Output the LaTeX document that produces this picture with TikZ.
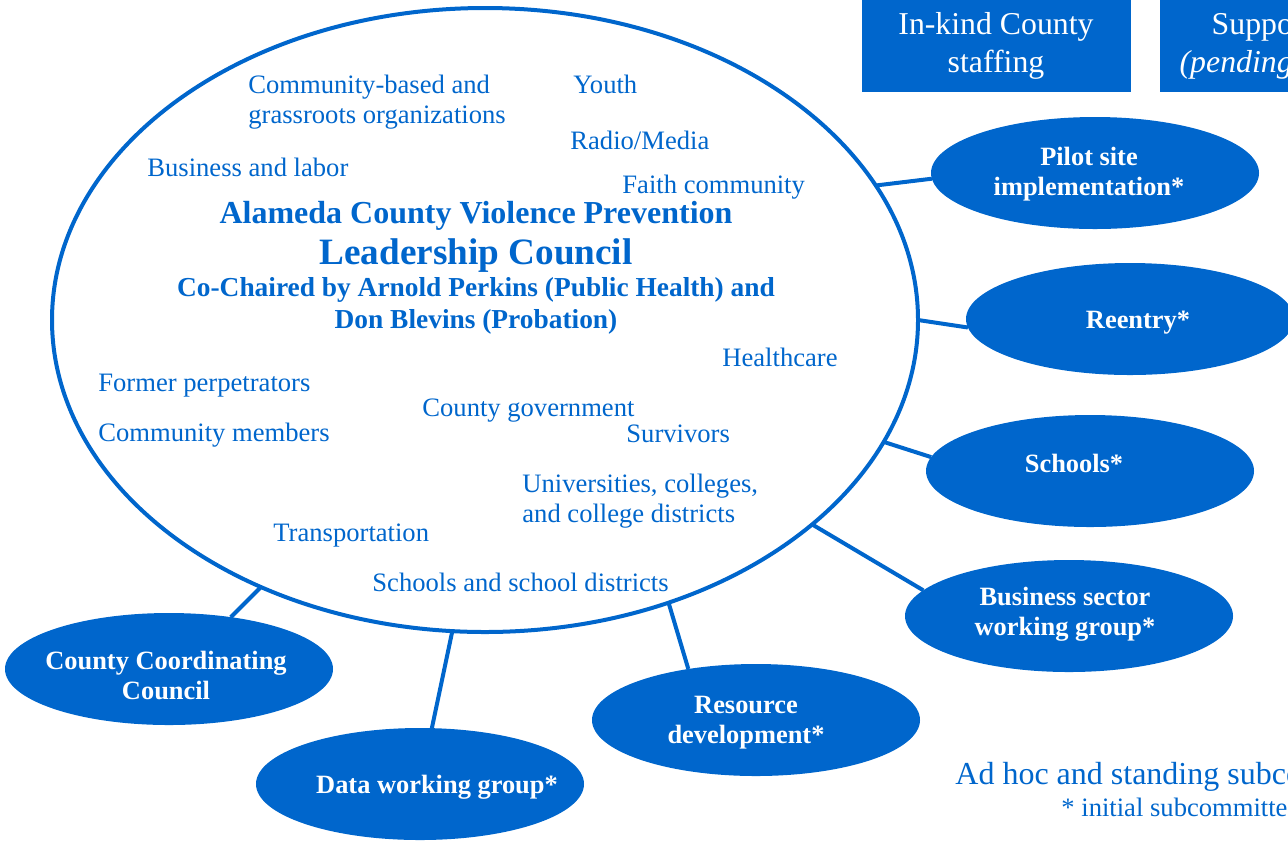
\documentclass[tikz,border=0pt]{standalone}
\usepackage{fontspec}
\setmainfont{Liberation Serif}
\usetikzlibrary{shapes.geometric}
\definecolor{lcblue}{HTML}{0066CC}

\begin{document}
\begin{tikzpicture}[x=0.5pt, y=-0.5pt,
    member/.style={anchor=west, inner sep=0pt, align=left, text=lcblue, font=\fontsize{13.3}{15}\selectfont},
    heading/.style={inner sep=0pt, align=center, text=lcblue},
    sub/.style={ellipse, fill=lcblue, minimum width=164pt, minimum height=56pt, inner sep=0pt, outer sep=0pt},
    subtext/.style={text=white, align=center, font=\bfseries\fontsize{13.2}{15}\selectfont},
    support/.style={fill=lcblue, text=white, minimum width=134.5pt, minimum height=46pt, inner sep=0pt, align=center, font=\fontsize{15.9}{19}\selectfont},
    link/.style={lcblue, line width=2pt}]
    % Fix the page and cut off what runs past it
    \useasboundingbox (0,0) rectangle (1288,842);
    \clip (0,0) rectangle (1288,842);

    % Draw the council ellipse
    \node[ellipse, draw=lcblue, line width=2pt, minimum width=433pt, minimum height=312pt, outer sep=0pt] (council) at (485,320) {};

    % Title of the council
    \node[heading, font=\bfseries\fontsize{16}{19}\selectfont] (title) at (476,216) {Alameda County Violence Prevention};
    \node[heading, font=\bfseries\fontsize{18.6}{22}\selectfont] (name) at (476,256) {Leadership Council};
    \node[heading, font=\bfseries\fontsize{13.7}{16}\selectfont] (chairs) at (476,306) {Co-Chaired by Arnold Perkins (Public Health) and\\Don Blevins (Probation)};

    % Members of the council
    \node[member] (cbo) at (248,102) {Community-based and\\grassroots organizations};
    \node[member] (youth) at (573,84) {Youth};
    \node[member] (media) at (570,140) {Radio/Media};
    \node[member] (business) at (147,167) {Business and labor};
    \node[member] (faith) at (622,187) {Faith community};
    \node[member] (health) at (722,357) {Healthcare};
    \node[member] (former) at (98,386) {Former perpetrators};
    \node[member] (county) at (422,411) {County government};
    \node[member] (community) at (98,435) {Community members};
    \node[member] (survivors) at (626,434) {Survivors};
    \node[member] (colleges) at (522,501) {Universities, colleges,\\and college districts};
    \node[member] (transport) at (273,536) {Transportation};
    \node[member] (schooldist) at (372,582) {Schools and school districts};

    % Support boxes
    \node[support] (staffing) at (996,46) {In-kind County\\staffing};
    \node[support] (staff) at (1294,46) {Support staff\\\textit{(pending funding)}};

    % Subcommittees
    \node[sub, label={[subtext, xshift=-3pt, yshift=-0.5pt]center:{Pilot site\\implementation*}}] (pilot) at (1095,173) {};
    \node[sub, label={[subtext, xshift=4pt, yshift=-2pt]center:{Reentry*}}] (reentry) at (1130,319) {};
    \node[sub, label={[subtext, xshift=-8pt, yshift=4pt]center:{Schools*}}] (schools) at (1090,471) {};
    \node[sub, label={[subtext, xshift=-2pt, yshift=1pt]center:{Business sector\\working group*}}] (bsector) at (1069,616) {};
    \node[sub, label={[subtext, xshift=-5pt, yshift=-1.5pt]center:{Resource\\development*}}] (resource) at (756,720) {};
    \node[sub, label={[subtext, xshift=8.5pt, yshift=-1.5pt]center:{Data working group*}}] (data) at (420,784) {};
    \node[sub, label={[subtext, xshift=-1.5pt, yshift=-3pt]center:{County Coordinating\\Council}}] (ccc) at (169,669) {};

    % Connect the subcommittees to the council
    \draw[link] (council.19) -- (pilot.182);
    \draw[link] (council.0) -- (reentry.183);
    \draw[link] (council.343) -- (schools.175);
    \draw[link] (council.328) -- (bsector.170);
    \draw[link] (council.303) -- (resource.143);
    \draw[link] (council.264) -- (data.78);
    \draw[link] (council.230) -- (ccc.40);

    % Note on the subcommittees
    \node[member, font=\fontsize{16}{19}\selectfont] (adhoc) at (955,777) {Ad hoc and standing subcommittees};
    \node[member] (initial) at (1061,807) {* initial subcommittees};
\end{tikzpicture}
\end{document}
